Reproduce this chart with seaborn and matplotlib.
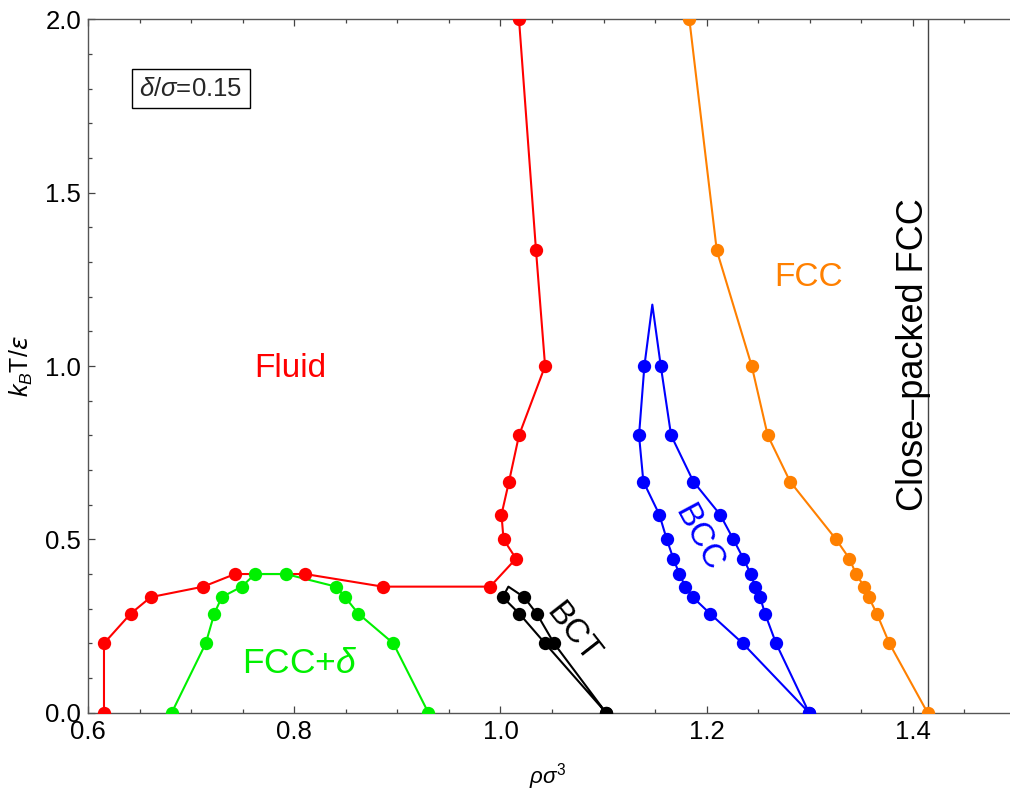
import matplotlib
matplotlib.use("Agg")
import matplotlib.pyplot as plt
import seaborn as sns
import pandas as pd
from matplotlib.ticker import MultipleLocator

# ---------------- data ----------------
fluid_rho = [0.6155, 0.6155, 0.6414, 0.6608, 0.7118, 0.7426, 0.8105, 0.8858,
             0.9900, 1.0151, 1.0030, 1.0010, 1.0083, 1.0180, 1.0433, 1.0345, 1.0180]
fluid_T = [0.0, 0.2, 0.2857, 0.3333, 0.3636, 0.4, 0.4, 0.3636,
           0.3636, 0.4444, 0.5, 0.5714, 0.6667, 0.8, 1.0, 1.3333, 2.0]

fccd_rho = [0.6812, 0.7142, 0.7225, 0.7297, 0.7491, 0.7620,
            0.7918, 0.8405, 0.8493, 0.8622, 0.8961, 0.9301]
fccd_T = [0.0, 0.2, 0.2857, 0.3333, 0.3636, 0.4,
          0.4, 0.3636, 0.3333, 0.2857, 0.2, 0.0]

bct_rho = [1.1024, 1.0433, 1.0183, 1.0022, 1.0077, 1.0229, 1.0352, 1.0520, 1.1024]
bct_T = [0.0, 0.2, 0.2857, 0.3333, 0.3636, 0.3333, 0.2857, 0.2, 0.0]
bct_marked = [True, True, True, True, False, True, True, True, True]

bcc_rho = [1.2993, 1.2350, 1.2033, 1.1865, 1.1793, 1.1735, 1.1677, 1.1613, 1.1541,
           1.1386, 1.1344, 1.1396, 1.1473,
           1.1555, 1.1655, 1.1871, 1.2130, 1.2259, 1.2356, 1.2428, 1.2469, 1.2518,
           1.2566, 1.2673, 1.2993]
bcc_T = [0.0, 0.2, 0.2857, 0.3333, 0.3636, 0.4, 0.4444, 0.5, 0.5714,
         0.6667, 0.8, 1.0, 1.177,
         1.0, 0.8, 0.6667, 0.5714, 0.5, 0.4444, 0.4, 0.3636, 0.3333,
         0.2857, 0.2, 0.0]
bcc_marked = [True] * 12 + [False] + [True] * 12

fcc_rho = [1.1832, 1.2098, 1.2437, 1.2592, 1.2809, 1.3255, 1.3384, 1.3449,
           1.3527, 1.3572, 1.3650, 1.3772, 1.4142]
fcc_T = [2.0, 1.3333, 1.0, 0.8, 0.6667, 0.5, 0.4444, 0.4,
         0.3636, 0.3333, 0.2857, 0.2, 0.0]

close_packed_rho = 1.4142

x_ticks = [0.6, 0.8, 1.0, 1.2, 1.4]
y_ticks = [0.0, 0.5, 1.0, 1.5, 2.0]

# ---------------- style ----------------
sns.set_theme(style="ticks")
plt.rcParams['font.family'] = ['Liberation Sans', 'DejaVu Sans']
plt.rcParams['mathtext.fontset'] = 'custom'
plt.rcParams['mathtext.rm'] = 'Liberation Sans'
plt.rcParams['mathtext.it'] = 'Liberation Sans:italic'
plt.rcParams['mathtext.bf'] = 'Liberation Sans:bold'
plt.rcParams['mathtext.sf'] = 'DejaVu Sans:italic'
plt.rcParams['axes.edgecolor'] = '#555555'
plt.rcParams['axes.linewidth'] = 1.0

RED = '#ff0000'
GREEN = '#00f000'
BLACK = '#000000'
BLUE = '#0000ff'
ORANGE = '#ff8000'

fig = plt.figure(figsize=(10.10, 7.96), dpi=100)
ax = fig.add_axes([88 / 1010, 83.3 / 796, 928 / 1010, 693.4 / 796])


def draw(rho, T, color, marked=None):
    df = pd.DataFrame({'rho': rho, 'T': T})
    sns.lineplot(data=df, x='rho', y='T', sort=False, estimator=None,
                 color=color, lw=1.5, ax=ax, zorder=2)
    pts = df if marked is None else df[pd.Series(marked)]
    sns.scatterplot(data=pts, x='rho', y='T', color=color, s=92,
                    linewidth=0, ax=ax, zorder=3)


draw(fluid_rho, fluid_T, RED)
draw(fccd_rho, fccd_T, GREEN)
draw(bct_rho, bct_T, BLACK, bct_marked)
draw(bcc_rho, bcc_T, BLUE, bcc_marked)
draw(fcc_rho, fcc_T, ORANGE)

ax.axvline(close_packed_rho, color='#444444', lw=1.0, zorder=1)

ax.set_xlim(0.6, 1.5)
ax.set_ylim(0.0, 2.0)
ax.set_xticks(x_ticks)
ax.set_xticklabels([f"{v:.1f}" for v in x_ticks])
ax.set_yticks(y_ticks)
ax.set_yticklabels([f"{v:.1f}" for v in y_ticks])
ax.xaxis.set_minor_locator(MultipleLocator(0.05))
ax.yaxis.set_minor_locator(MultipleLocator(0.1))
ax.spines['right'].set_visible(False)
ax.tick_params(which='both', direction='in', top=True, right=False,
               color='#444444', width=0.9)
ax.tick_params(which='major', length=5, labelsize=18.5, labelcolor='black')
ax.tick_params(which='minor', length=3)
ax.tick_params(axis='x', which='major', pad=5)
ax.tick_params(axis='y', which='major', pad=5)

ax.set_xlabel(r"$\rho\sigma^{\mathrm{3}}$", fontsize=16, color='black')
ax.set_ylabel(r"$k_B\mathrm{T}/\mathsf{\varepsilon}$", fontsize=18, color='black')
ax.xaxis.set_label_coords(0.4957, -0.070)
ax.yaxis.set_label_coords(-0.057, 0.5)

# ---------------- annotations ----------------
ax.text(0.6999, 1.800, r"$\delta/\sigma$=0.15", fontsize=18.5, ha='center', va='center',
        bbox=dict(boxstyle='square,pad=0.3', fc='white', ec='black', lw=1.0))
ax.text(0.7959, 0.994, "Fluid", color=RED, fontsize=24, ha='center', va='center')
ax.text(1.2984, 1.254, "FCC", color=ORANGE, fontsize=24, ha='center', va='center')
ax.text(0.8056, 0.143, r"FCC+$\delta$", color=GREEN, fontsize=25.5, ha='center', va='center')
ax.text(1.1917, 0.504, "BCC", color=BLUE, fontsize=24, ha='center', va='center',
        rotation=-62, rotation_mode='anchor')
ax.text(1.0694, 0.230, "BCT", color=BLACK, fontsize=24, ha='center', va='center',
        rotation=-52, rotation_mode='anchor')
ax.text(1.4002, 1.032, "Close\u2013packed FCC", color=BLACK, fontsize=26,
        ha='center', va='center', rotation=90, rotation_mode='anchor')

fig.savefig("out.png", dpi=100)
